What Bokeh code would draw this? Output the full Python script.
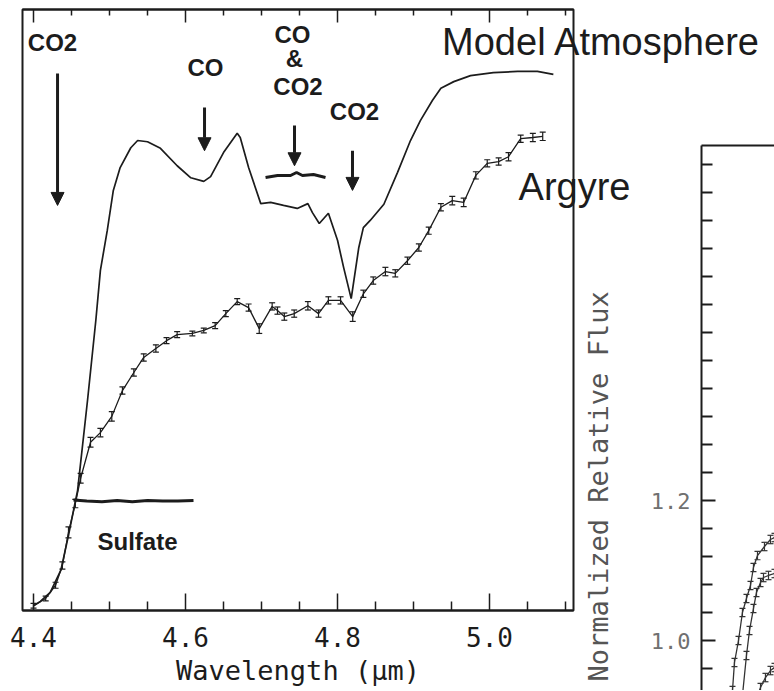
import math
from bokeh.plotting import figure
from bokeh.models import (Range1d, LinearAxis, FixedTicker, PrintfTickFormatter, Label,
                          Arrow, NormalHead, Whisker, TeeHead, ColumnDataSource, InlineStyleSheet)
from bokeh.embed import file_html
from bokeh.resources import INLINE

# ---------------- data ----------------
model_wl = [4.400, 4.409, 4.422, 4.436, 4.446, 4.458, 4.471, 4.482, 4.488, 4.497, 4.505, 4.514,
            4.528, 4.537, 4.550, 4.567, 4.589, 4.607, 4.624, 4.633, 4.650, 4.668, 4.672, 4.683,
            4.699, 4.712, 4.729, 4.747, 4.761, 4.767, 4.776, 4.788, 4.800, 4.808, 4.818, 4.828,
            4.834, 4.843, 4.861, 4.879, 4.896, 4.909, 4.925, 4.936, 4.953, 4.975, 5.005, 5.037,
            5.063, 5.084]
model_flux = [0.008, 0.015, 0.030, 0.067, 0.125, 0.200, 0.349, 0.483, 0.566, 0.632, 0.699, 0.737,
              0.770, 0.782, 0.780, 0.769, 0.740, 0.720, 0.714, 0.722, 0.762, 0.794, 0.787, 0.737,
              0.677, 0.679, 0.674, 0.669, 0.677, 0.662, 0.644, 0.661, 0.616, 0.571, 0.519, 0.604,
              0.637, 0.649, 0.676, 0.729, 0.782, 0.815, 0.849, 0.869, 0.880, 0.890, 0.895, 0.897,
              0.897, 0.892]

argyre_wl = [4.400, 4.416, 4.429, 4.438, 4.446, 4.455, 4.462, 4.475, 4.488, 4.503, 4.517, 4.532,
             4.545, 4.561, 4.575, 4.589, 4.609, 4.624, 4.639, 4.653, 4.668, 4.683, 4.697, 4.714,
             4.721, 4.730, 4.743, 4.761, 4.775, 4.788, 4.804, 4.820, 4.834, 4.847, 4.863, 4.876,
             4.892, 4.907, 4.920, 4.936, 4.951, 4.966, 4.982, 4.997, 5.012, 5.025, 5.041, 5.057,
             5.070]
argyre_flux = [0.008, 0.020, 0.042, 0.075, 0.130, 0.178, 0.220, 0.280, 0.296, 0.323, 0.366, 0.396,
               0.421, 0.436, 0.449, 0.459, 0.461, 0.466, 0.474, 0.494, 0.514, 0.504, 0.469, 0.506,
               0.499, 0.489, 0.494, 0.507, 0.494, 0.516, 0.516, 0.489, 0.527, 0.549, 0.564, 0.561,
               0.582, 0.604, 0.632, 0.671, 0.682, 0.679, 0.724, 0.744, 0.747, 0.755, 0.785, 0.787,
               0.789]
argyre_err = [0.004, 0.004, 0.005, 0.006, 0.009, 0.007, 0.008, 0.008, 0.007, 0.008, 0.006, 0.006,
              0.006, 0.006, 0.005, 0.005, 0.004, 0.004, 0.005, 0.005, 0.005, 0.006, 0.008, 0.006,
              0.006, 0.006, 0.006, 0.007, 0.006, 0.006, 0.006, 0.008, 0.006, 0.006, 0.007, 0.006,
              0.006, 0.006, 0.006, 0.006, 0.007, 0.007, 0.006, 0.006, 0.006, 0.007, 0.006, 0.007,
              0.007]

x_major = [4.4, 4.6, 4.8, 5.0]
x_minor = [4.45, 4.5, 4.55, 4.65, 4.7, 4.75, 4.85, 4.9, 4.95, 5.05, 5.1]

# absorption band markers
band_labels = ["CO2", "CO", "CO", "&", "CO2", "CO2"]
band_label_x = [4.4250, 4.6263, 4.7408, 4.7434, 4.7480, 4.8224]
band_label_y = [0.945, 0.903, 0.959, 0.919, 0.872, 0.830]
arrow_x = [4.4316, 4.6250, 4.7434, 4.8197]
arrow_top = [0.8935, 0.837, 0.807, 0.765]
arrow_bottom = [0.674, 0.765, 0.740, 0.699]

brace_x = [4.7053, 4.7211, 4.7382, 4.7461, 4.7539, 4.7684, 4.7842]
brace_y = [0.7205, 0.7238, 0.7238, 0.7288, 0.7238, 0.7255, 0.7205]
sulfate_x = [4.4526, 4.470, 4.490, 4.510, 4.530, 4.550, 4.570, 4.590, 4.6105]
sulfate_y = [0.184, 0.182, 0.181, 0.183, 0.181, 0.183, 0.182, 0.182, 0.183]

# right-hand (cut-off) panel
r_y_major = [1.0, 1.2]
r_y_minor = [0.96, 1.04, 1.08, 1.12, 1.16, 1.24, 1.28, 1.32, 1.36, 1.40, 1.44, 1.48,
             1.52, 1.56, 1.60, 1.64, 1.68]
r1_wl = [4.4263, 4.4289, 4.4342, 4.4394, 4.4447, 4.4500, 4.4539, 4.4592, 4.4684, 4.4763, 4.4816]
r1_flux = [0.9286, 0.9686, 1.000, 1.040, 1.060, 1.0786, 1.1043, 1.1214, 1.1343, 1.1443, 1.1471]
r2_wl = [4.4394, 4.4447, 4.4487, 4.4539, 4.4579, 4.4632, 4.4671, 4.4737, 4.4816]
r2_flux = [0.9214, 0.9786, 1.0143, 1.0457, 1.0686, 1.0829, 1.0900, 1.0929, 1.0957]
r3_wl = [4.4592, 4.4632, 4.4697, 4.4763, 4.4816]
r3_flux = [0.9214, 0.9329, 0.9471, 0.9571, 0.9614]

INK = "#1c1c1c"
MONO = "DejaVu Sans Mono"
SANS = "Liberation Sans"


def place(left, top, z=1):
    return [InlineStyleSheet(css=":host { position: absolute !important; left: %dpx !important; "
                                 "top: %dpx !important; z-index: %d; }" % (left, top, z))]


# ---------------- left (main) panel ----------------
p = figure(width=774, height=690, x_range=Range1d(4.3855, 5.1105), y_range=Range1d(0, 1),
           output_backend="svg", toolbar_location=None, y_axis_location=None)
p.min_border_left = 22
p.min_border_right = 201
p.min_border_top = 9
p.min_border_bottom = 80
p.outline_line_color = INK
p.outline_line_width = 2
p.grid.visible = False
p.background_fill_color = "white"
p.border_fill_color = "white"

xa = p.xaxis[0]
xa.ticker = FixedTicker(ticks=x_major, minor_ticks=x_minor)
xa.formatter = PrintfTickFormatter(format="%.1f")
xa.axis_line_color = INK
xa.axis_line_width = 2
xa.major_tick_in = 17
xa.major_tick_out = 0
xa.minor_tick_in = 9
xa.minor_tick_out = 0
xa.major_tick_line_color = INK
xa.minor_tick_line_color = INK
xa.major_tick_line_width = 1.5
xa.minor_tick_line_width = 1.5
xa.major_label_text_font = MONO
xa.major_label_text_font_size = "26px"
xa.major_label_text_color = INK
xa.major_label_standoff = 16
xa.axis_label = "Wavelength (µm)"
xa.axis_label_text_font = MONO
xa.axis_label_text_font_size = "27px"
xa.axis_label_text_font_style = "normal"
xa.axis_label_text_color = INK
xa.axis_label_standoff = 5

top = LinearAxis(ticker=FixedTicker(ticks=x_major, minor_ticks=x_minor),
                 formatter=PrintfTickFormatter(format=""), major_label_standoff=0,
                 major_tick_in=13, major_tick_out=0, minor_tick_in=6, minor_tick_out=0,
                 axis_line_color=INK, axis_line_width=2,
                 major_tick_line_color=INK, minor_tick_line_color=INK,
                 major_tick_line_width=1.5, minor_tick_line_width=1.5)
p.add_layout(top, "above")

p.line(model_wl, model_flux, line_color=INK, line_width=1.7)
p.line(argyre_wl, argyre_flux, line_color=INK, line_width=1.3)
src = ColumnDataSource(data=dict(
    x=argyre_wl,
    lo=[f - e for f, e in zip(argyre_flux, argyre_err)],
    hi=[f + e for f, e in zip(argyre_flux, argyre_err)]))
p.add_layout(Whisker(source=src, base="x", lower="lo", upper="hi", dimension="height",
                     line_color=INK, line_width=1.2,
                     lower_head=TeeHead(size=6, line_color=INK, line_width=1.2),
                     upper_head=TeeHead(size=6, line_color=INK, line_width=1.2)))

p.line(brace_x, brace_y, line_color=INK, line_width=3)
p.line(sulfate_x, sulfate_y, line_color=INK, line_width=3)

for xx, y0, y1 in zip(arrow_x, arrow_top, arrow_bottom):
    p.add_layout(Arrow(x_start=xx, y_start=y0, x_end=xx, y_end=y1, line_color=INK, line_width=3,
                       end=NormalHead(size=13, fill_color=INK, line_color=INK, line_width=1)))

for t, xx, yy in zip(band_labels, band_label_x, band_label_y):
    p.add_layout(Label(x=xx, y=yy, text=t, text_font=SANS, text_font_style="bold",
                       text_font_size="24px", text_color=INK, text_align="center",
                       text_baseline="middle"))
p.add_layout(Label(x=4.5368, y=0.114, text="Sulfate", text_font=SANS, text_font_style="bold",
                   text_font_size="24px", text_color=INK, text_align="center",
                   text_baseline="middle"))
p.stylesheets = place(0, 0, 1)

# ---------------- right (cut-off) panel ----------------
p2 = figure(width=203, height=690, x_range=Range1d(4.3855, 4.4816), y_range=Range1d(0.9286, 1.7071),
            output_backend="svg", toolbar_location=None, x_axis_location=None)
p2.min_border_left = 130
p2.min_border_right = 0
p2.min_border_top = 145
p2.min_border_bottom = 0
p2.outline_line_color = None
p2.background_fill_color = None
p2.border_fill_color = None
p2.grid.visible = False

ya = p2.yaxis[0]
ya.ticker = FixedTicker(ticks=r_y_major, minor_ticks=r_y_minor)
ya.formatter = PrintfTickFormatter(format="%.1f")
ya.axis_line_color = INK
ya.axis_line_width = 2
ya.major_tick_in = 14
ya.major_tick_out = 0
ya.minor_tick_in = 11
ya.minor_tick_out = 0
ya.major_tick_line_color = INK
ya.minor_tick_line_color = INK
ya.major_tick_line_width = 2
ya.minor_tick_line_width = 2
ya.major_label_text_font = MONO
ya.major_label_text_font_size = "22px"
ya.major_label_text_color = "#707070"
ya.major_label_standoff = 11

top2 = LinearAxis(ticker=FixedTicker(ticks=[]), major_label_standoff=0,
                  major_tick_in=0, major_tick_out=0, minor_tick_in=0, minor_tick_out=0,
                  axis_line_color=INK, axis_line_width=2)
p2.add_layout(top2, "above")

for wl, fl in ((r1_wl, r1_flux), (r2_wl, r2_flux), (r3_wl, r3_flux)):
    p2.line(wl, fl, line_color="#333333", line_width=1.3)
    s2 = ColumnDataSource(data=dict(x=wl, lo=[f - 0.006 for f in fl], hi=[f + 0.006 for f in fl]))
    p2.add_layout(Whisker(source=s2, base="x", lower="lo", upper="hi", dimension="height",
                          line_color="#333333", line_width=1.2,
                          lower_head=TeeHead(size=6, line_color="#333333", line_width=1.2),
                          upper_head=TeeHead(size=6, line_color="#333333", line_width=1.2)))
p2.stylesheets = place(571, 0, 2)

# ---------------- transparent text layer (same wavelength/flux scale as the main panel) ----------------
p3 = figure(width=774, height=690, x_range=Range1d(4.35655, 5.37497), y_range=Range1d(-0.13311, 1.01498),
            output_backend="svg", toolbar_location=None, x_axis_location=None, y_axis_location=None)
p3.min_border_left = 0
p3.min_border_right = 0
p3.min_border_top = 0
p3.min_border_bottom = 0
p3.outline_line_color = None
p3.background_fill_color = None
p3.border_fill_color = None
p3.grid.visible = False
p3.add_layout(Label(x=5.1474, y=0.946, text="Model Atmosphere", text_font=SANS,
                    text_font_size="38px", text_color=INK, text_align="center",
                    text_baseline="alphabetic"))
p3.add_layout(Label(x=5.1118, y=0.704, text="Argyre", text_font=SANS,
                    text_font_size="38px", text_color=INK, text_align="center",
                    text_baseline="alphabetic"))
p3.add_layout(Label(x=5.1434, y=-0.1181, text="Normalized Relative Flux", angle=math.pi / 2,
                    text_font=MONO, text_font_size="27px", text_color="#555555",
                    text_align="left", text_baseline="middle"))
p3.stylesheets = place(0, 0, 3)

open("out.html", "w").write(file_html([p, p2, p3], INLINE))
